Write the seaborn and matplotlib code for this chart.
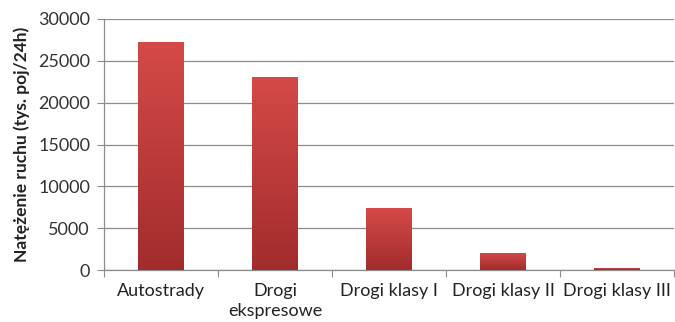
import numpy as np
import pandas as pd
import matplotlib
matplotlib.use("Agg")
import matplotlib.pyplot as plt
import seaborn as sns
from matplotlib.colors import LinearSegmentedColormap

categories = ["Autostrady", "Drogi\nekspresowe", "Drogi klasy I", "Drogi klasy II", "Drogi klasy III"]
traffic = [27300, 23100, 7400, 2050, 300]
y_ticks = [0, 5000, 10000, 15000, 20000, 25000, 30000]

df = pd.DataFrame({"kategoria": categories, "natezenie": traffic})

sns.set_theme(style="white")
plt.rcParams["font.family"] = ["Lato", "DejaVu Sans"]

fig = plt.figure(figsize=(6.75, 3.22), dpi=100)
ax = fig.add_axes([0.154, 0.161, 0.845, 0.780])

sns.barplot(data=df, x="kategoria", y="natezenie", color="#c84040",
            width=0.4, ax=ax, zorder=3, linewidth=0)

ax.set_ylim(0, 30000)
ax.set_xlim(-0.5, len(categories) - 0.5)
ax.set_yticks(y_ticks)
ax.set_yticklabels([str(v) for v in y_ticks], fontsize=13, color="#333333")
ax.tick_params(axis="x", labelsize=13, labelcolor="#222222", length=0, pad=9)
for lbl in ax.get_xticklabels():
    lbl.set_linespacing(1.35)
ax.tick_params(axis="y", length=5, width=0.8, color="#8c8c8c", left=True, pad=5)
ax.set_xticks(np.arange(-0.5, len(categories), 1.0), minor=True)
ax.tick_params(axis="x", which="minor", bottom=True, length=5, width=0.8, color="#8c8c8c")

ax.yaxis.grid(True, color="#8c8c8c", linewidth=0.9, zorder=0)
ax.set_axisbelow(True)
for side in ("top", "right"):
    ax.spines[side].set_visible(False)
for side in ("left", "bottom"):
    ax.spines[side].set_color("#8c8c8c")
    ax.spines[side].set_linewidth(0.9)

ax.set_xlabel("")
ax.set_ylabel("Natężenie ruchu (tys. poj/24h)", fontsize=12.5, fontweight="bold",
              color="#222222", labelpad=6)

# vertical shading on each bar, lighter at the top
cmap = LinearSegmentedColormap.from_list("bar", ["#a22c2c", "#d44a48"])
grad = np.linspace(0, 1, 256).reshape(-1, 1)
for patch in ax.patches:
    x0, y0 = patch.get_x(), patch.get_y()
    w, h = patch.get_width(), patch.get_height()
    im = ax.imshow(grad, cmap=cmap, origin="lower", aspect="auto",
                   extent=[x0, x0 + w, y0, y0 + h], zorder=4)
    im.set_clip_path(patch)
ax.set_xlim(-0.5, len(categories) - 0.5)
ax.set_ylim(0, 30000)

fig.savefig("out.png", dpi=100)
